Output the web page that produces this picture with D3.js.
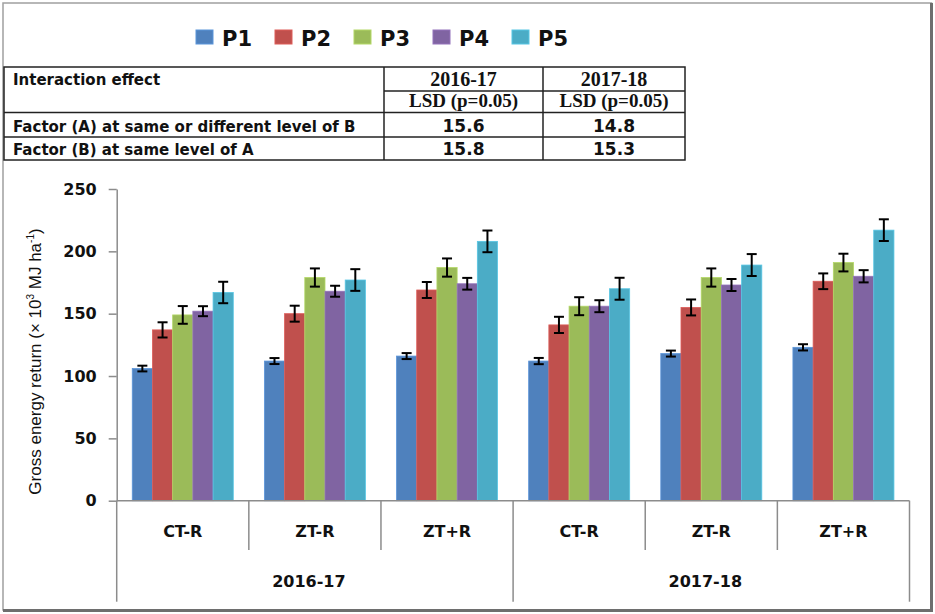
<!DOCTYPE html>
<html>
<head>
<meta charset="utf-8">
<script src="https://cdn.jsdelivr.net/npm/d3@7"></script>
<style>
  body { margin: 0; background: #fff; }
</style>
</head>
<body>
<div id="chart"></div>
<script>
const seasons = ["2016-17", "2017-18"];
const tillage = ["CT-R", "ZT-R", "ZT+R"];
const series = ["P1", "P2", "P3", "P4", "P5"];

// one value per season x tillage, in the order 2016-17 CT-R ... 2017-18 ZT+R
const p1 = [106, 112, 116, 112, 118, 123];
const p2 = [137, 150, 169, 141, 155, 176];
const p3 = [149, 179, 187, 156, 179, 191];
const p4 = [152, 168, 174, 156, 173, 180];
const p5 = [167, 177, 208, 170, 189, 217];

const e1 = [2.3, 2.4, 2.4, 2.5, 2.4, 2.5];
const e2 = [6.1, 6.4, 6.4, 6.5, 6.4, 6.3];
const e3 = [7.1, 7.3, 7.3, 7.2, 7.3, 7.1];
const e4 = [4.0, 4.4, 4.7, 4.8, 4.8, 4.9];
const e5 = [8.6, 8.7, 8.7, 8.8, 8.8, 8.7];

const yTicks = [0, 50, 100, 150, 200, 250];

const tableRows = ["Factor (A) at same or different level of B", "Factor (B) at same level of A"];
const lsd201617 = ["15.6", "15.8"];
const lsd201718 = ["14.8", "15.3"];

const values = [p1, p2, p3, p4, p5];
const errors = [e1, e2, e3, e4, e5];
const colors = ["#4F81BD", "#C0504D", "#9BBB59", "#8064A2", "#4BACC6"];

const width = 935;
const height = 614;

const svg = d3.select("#chart")
  .append("svg")
  .attr("width", width)
  .attr("height", height);

svg.append("rect")
  .attr("width", width)
  .attr("height", height)
  .attr("fill", "#fff");

// frame
svg.append("rect")
  .attr("x", 3).attr("y", 3)
  .attr("width", 928.5).attr("height", 607)
  .attr("fill", "none")
  .attr("stroke", "#a0a0a0")
  .attr("stroke-width", 1.5);
svg.append("path")
  .attr("d", "M931.5,3 V610.5 H3")
  .attr("fill", "none")
  .attr("stroke", "#6e6e6e")
  .attr("stroke-width", 3);

// legend
const legend = svg.append("g");
const leg = legend.selectAll("g")
  .data(series)
  .enter()
  .append("g")
  .attr("transform", (d, i) => `translate(${196 + i * 79}, 30)`);
leg.append("rect")
  .attr("width", 17)
  .attr("height", 14)
  .attr("fill", (d, i) => colors[i])
  .attr("stroke", (d, i) => d3.color(colors[i]).brighter(0.4))
  .attr("stroke-width", 1);
leg.append("text")
  .attr("x", 26)
  .attr("y", 15.5)
  .text(d => d)
  .style("font-family", "DejaVu Sans")
  .style("font-weight", "bold")
  .style("font-size", "21px")
  .style("fill", "#111");

// LSD table
const tx = [4, 384, 543, 685];
const ty = [67, 91, 112.5, 137, 160];
const table = svg.append("g")
  .attr("stroke", "#222")
  .attr("stroke-width", 1.5);
table.append("rect")
  .attr("x", tx[0]).attr("y", ty[0])
  .attr("width", tx[3] - tx[0]).attr("height", ty[4] - ty[0])
  .attr("fill", "none");
table.append("line").attr("x1", tx[1]).attr("x2", tx[3]).attr("y1", ty[1]).attr("y2", ty[1]);
[ty[2], ty[3]].forEach(y => {
  table.append("line").attr("x1", tx[0]).attr("x2", tx[3]).attr("y1", y).attr("y2", y);
});
[tx[1], tx[2]].forEach(x => {
  table.append("line").attr("x1", x).attr("x2", x).attr("y1", ty[0]).attr("y2", ty[4]);
});

const colMid = [(tx[1] + tx[2]) / 2, (tx[2] + tx[3]) / 2];

svg.append("text")
  .attr("x", 13).attr("y", 85)
  .text("Interaction effect")
  .style("font-family", "DejaVu Sans")
  .style("font-weight", "bold")
  .style("font-size", "15px")
  .style("fill", "#111");

seasons.forEach((s, i) => {
  svg.append("text")
    .attr("x", colMid[i]).attr("y", 86)
    .attr("text-anchor", "middle")
    .text(s)
    .style("font-family", "Liberation Serif")
    .style("font-weight", "bold")
    .style("font-size", "20px")
    .style("fill", "#111");
  svg.append("text")
    .attr("x", colMid[i]).attr("y", 107)
    .attr("text-anchor", "middle")
    .text("LSD (p=0.05)")
    .style("font-family", "Liberation Serif")
    .style("font-weight", "bold")
    .style("font-size", "19px")
    .style("fill", "#111");
});

tableRows.forEach((r, i) => {
  const base = i === 0 ? 131.5 : 155;
  svg.append("text")
    .attr("x", 13).attr("y", base)
    .text(r)
    .style("font-family", "DejaVu Sans")
    .style("font-weight", "bold")
    .style("font-size", "15px")
    .style("fill", "#111");
  [lsd201617[i], lsd201718[i]].forEach((v, j) => {
    svg.append("text")
      .attr("x", colMid[j]).attr("y", base)
      .attr("text-anchor", "middle")
      .text(v)
      .style("font-family", "DejaVu Sans")
      .style("font-weight", "bold")
      .style("font-size", "17px")
      .style("fill", "#111");
  });
});

// chart
const left = 116.7;
const right = 909.5;
const zeroY = 500.7;
const topY = 189;

const cats = [];
seasons.forEach(s => tillage.forEach(t => cats.push(s + "|" + t)));

const x = d3.scaleBand()
  .domain(cats)
  .range([left, right]);

const xInner = d3.scaleBand()
  .domain(series)
  .range([0, x.bandwidth()])
  .paddingInner(0)
  .paddingOuter(0.77);

const y = d3.scaleLinear()
  .domain([0, 250])
  .range([zeroY, topY]);

const bars = [];
series.forEach((p, i) => {
  cats.forEach((c, j) => {
    bars.push({ series: p, idx: i, cat: c, value: values[i][j], err: errors[i][j] });
  });
});

svg.append("g")
  .selectAll("rect")
  .data(bars)
  .enter()
  .append("rect")
  .attr("x", d => x(d.cat) + xInner(d.series))
  .attr("y", d => y(d.value))
  .attr("width", xInner.bandwidth())
  .attr("height", d => y(0) - y(d.value))
  .attr("fill", d => colors[d.idx])
  .attr("stroke", d => d3.color(colors[d.idx]).brighter(0.4))
  .attr("stroke-width", 0.8);

// error bars
const eb = svg.append("g")
  .attr("stroke", "#000")
  .attr("stroke-width", 2);
bars.forEach(d => {
  const cx = x(d.cat) + xInner(d.series) + xInner.bandwidth() / 2;
  const y1 = y(d.value + d.err);
  const y2 = y(d.value - d.err);
  eb.append("line").attr("x1", cx).attr("x2", cx).attr("y1", y1).attr("y2", y2);
  eb.append("line").attr("x1", cx - 5).attr("x2", cx + 5).attr("y1", y1).attr("y2", y1);
  eb.append("line").attr("x1", cx - 5).attr("x2", cx + 5).attr("y1", y2).attr("y2", y2);
});

// y axis
const yAxis = svg.append("g")
  .attr("transform", `translate(${left}, 0)`)
  .call(d3.axisLeft(y).tickValues(yTicks).tickSize(8).tickPadding(12).tickSizeOuter(0));
yAxis.select(".domain").attr("stroke", "#8c8c8c").attr("stroke-width", 1.5);
yAxis.selectAll(".tick line").attr("stroke", "#8c8c8c").attr("stroke-width", 1.5);
yAxis.selectAll(".tick text")
  .style("font-family", "DejaVu Sans")
  .style("font-weight", "bold")
  .style("font-size", "16px")
  .style("fill", "#111");

const yTitle = svg.append("text")
  .attr("transform", "translate(41, 361.5) rotate(-90)")
  .attr("text-anchor", "middle")
  .style("font-family", "Liberation Sans")
  .style("font-size", "17px")
  .style("fill", "#111");
yTitle.append("tspan").text("Gross energy return (× 10");
yTitle.append("tspan").attr("dy", -7).style("font-size", "10px").text("3");
yTitle.append("tspan").attr("dy", 7).text(" MJ ha");
yTitle.append("tspan").attr("dy", -7).style("font-size", "10px").text("-1");
yTitle.append("tspan").attr("dy", 7).text(")");

// x axis with two levels of categories
const xg = svg.append("g")
  .attr("stroke", "#8c8c8c")
  .attr("stroke-width", 1.5);
xg.append("line")
  .attr("x1", left).attr("x2", right)
  .attr("y1", zeroY).attr("y2", zeroY);

const edges = cats.map(c => x(c)).concat([right]);
edges.forEach((ex, i) => {
  const long = i % tillage.length === 0;
  xg.append("line")
    .attr("x1", ex).attr("x2", ex)
    .attr("y1", zeroY)
    .attr("y2", long ? 601.7 : 550);
});

svg.append("g")
  .selectAll("text")
  .data(cats)
  .enter()
  .append("text")
  .attr("x", d => x(d) + x.bandwidth() / 2)
  .attr("y", 537)
  .attr("text-anchor", "middle")
  .text(d => d.split("|")[1])
  .style("font-family", "DejaVu Sans")
  .style("font-weight", "bold")
  .style("font-size", "16px")
  .style("fill", "#111");

svg.append("g")
  .selectAll("text")
  .data(seasons)
  .enter()
  .append("text")
  .attr("x", (d, i) => {
    const a = x(d + "|" + tillage[0]);
    const b = x(d + "|" + tillage[tillage.length - 1]) + x.bandwidth();
    return (a + b) / 2 - 6;
  })
  .attr("y", 587)
  .attr("text-anchor", "middle")
  .text(d => d)
  .style("font-family", "DejaVu Sans")
  .style("font-weight", "bold")
  .style("font-size", "16px")
  .style("fill", "#111");
</script>
</body>
</html>
